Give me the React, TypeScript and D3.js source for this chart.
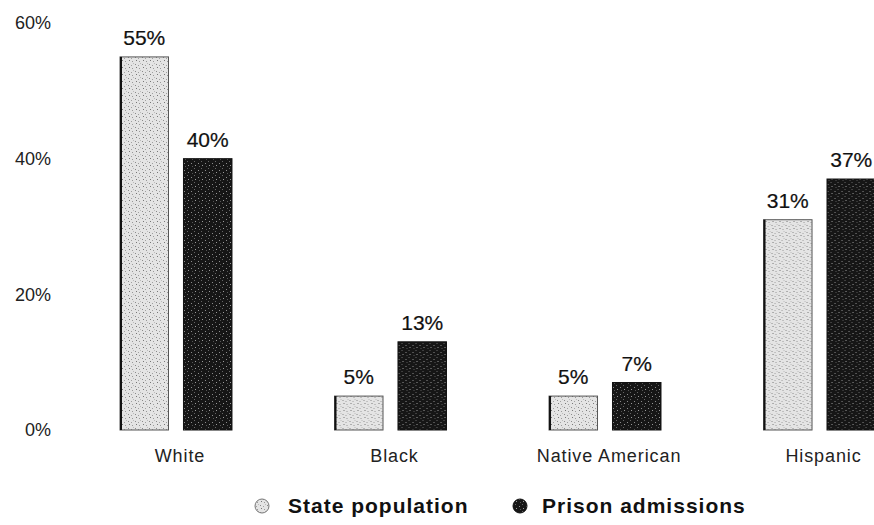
import React from 'react';
import * as d3 from 'd3';

// 인종 그룹
const groups = ['White', 'Black', 'Native American', 'Hispanic'];
const seriesKeys = ['state', 'prison'];
const seriesNames = ['State population', 'Prison admissions'];
const statePopulation = [55, 5, 5, 31];
const prisonAdmissions = [40, 13, 7, 37];
const yTicks = [0, 20, 40, 60];

const W = 874;
const H = 525;

const App = () => {
  const x0 = d3.scaleBand<string>().domain(groups).range([120, 875.5]).paddingInner(0.478).paddingOuter(0);
  const x1 = d3.scaleBand<string>().domain(seriesKeys).range([0, x0.bandwidth()]).paddingInner(0.236).paddingOuter(0);
  const y = d3.scaleLinear().domain([0, 60]).range([430, 23]);

  const rows = groups.map((g, i) => ({ group: g, values: [statePopulation[i], prisonAdmissions[i]] }));
  const font = 'Arial, "Liberation Sans", sans-serif';

  return (
    <svg width={W} height={H} style={{ position: 'absolute', left: 0, top: 0, background: '#fff' }}>
      <defs>
        <pattern id="pat-state" width="7" height="7" patternUnits="userSpaceOnUse">
          <rect width="7" height="7" fill="#e4e4e4" />
          <rect x="1" y="1" width="1" height="1" fill="#8a8a8a" />
          <rect x="4" y="2" width="1" height="1" fill="#a0a0a0" />
          <rect x="2" y="4" width="1" height="1" fill="#777" />
          <rect x="5" y="5" width="1" height="1" fill="#999" />
          <rect x="6" y="0" width="1" height="1" fill="#bbb" />
        </pattern>
        <pattern id="pat-prison" width="7" height="7" patternUnits="userSpaceOnUse">
          <rect width="7" height="7" fill="#161616" />
          <rect x="1" y="2" width="1" height="1" fill="#8c8c8c" />
          <rect x="4" y="0" width="1" height="1" fill="#666" />
          <rect x="5" y="4" width="1" height="1" fill="#9a9a9a" />
          <rect x="2" y="5" width="1" height="1" fill="#555" />
        </pattern>
      </defs>

      {/* y축 라벨 */}
      {yTicks.map((t) => (
        <text key={t} x={51} y={y(t)} dy="0.35em" textAnchor="end" fontFamily={font} fontSize={18} fill="#222">
          {t}%
        </text>
      ))}

      {rows.map((r) => (
        <g key={r.group} transform={`translate(${x0(r.group)},0)`}>
          {r.values.map((v, j) => {
            const bx = x1(seriesKeys[j]) as number;
            const bw = x1.bandwidth();
            return (
              <g key={j}>
                <rect
                  x={bx}
                  y={y(v)}
                  width={bw}
                  height={y(0) - y(v)}
                  fill={j === 0 ? 'url(#pat-state)' : 'url(#pat-prison)'}
                  stroke={j === 0 ? '#555' : '#111'}
                  strokeWidth={1}
                />
                {j === 0 && <rect x={bx} y={y(v)} width={2} height={y(0) - y(v)} fill="#111" />}
                <text
                  x={bx + bw / 2}
                  y={y(v) - 12}
                  textAnchor="middle"
                  fontFamily={font}
                  fontSize={21}
                  fill="#111"
                  stroke="#111"
                  strokeWidth={0.2}
                >
                  {v}%
                </text>
              </g>
            );
          })}
          <text
            x={x0.bandwidth() / 2 + 4}
            y={462}
            textAnchor="middle"
            fontFamily={font}
            fontSize={18}
            letterSpacing={0.9}
            fill="#222"
          >
            {r.group}
          </text>
        </g>
      ))}

      {/* 범례 */}
      {seriesNames.map((name, i) => {
        const lx = i === 0 ? 262 : 520;
        return (
          <g key={name}>
            <circle
              cx={lx}
              cy={506}
              r={7}
              fill={i === 0 ? 'url(#pat-state)' : 'url(#pat-prison)'}
              stroke={i === 0 ? '#777' : '#111'}
              strokeWidth={1}
            />
            <text
              x={lx + (i === 0 ? 26 : 22)}
              y={513}
              fontFamily={font}
              fontSize={21}
              fontWeight="bold"
              letterSpacing={1}
              fill="#111"
            >
              {name}
            </text>
          </g>
        );
      })}
    </svg>
  );
};

export default App;
